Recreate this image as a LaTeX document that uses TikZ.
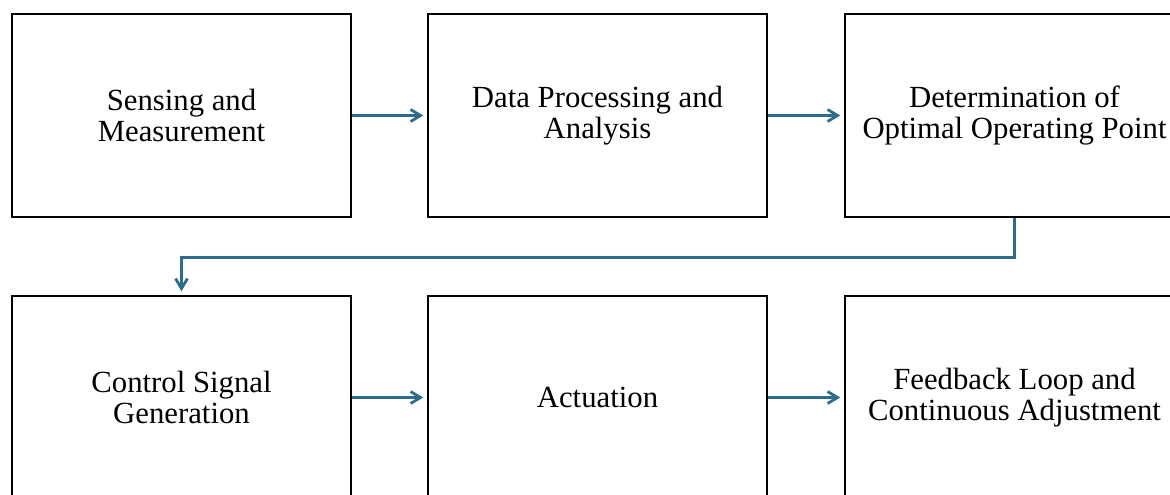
\documentclass[tikz,border=0pt]{standalone}
\usepackage{fontspec}
\setmainfont{Liberation Serif}
\usetikzlibrary{positioning,arrows.meta}
\definecolor{flowblue}{RGB}{46,108,142}

\begin{document}
\begin{tikzpicture}[
            x=0.02cm, y=-0.02cm,
            stage/.style={
                rectangle,
                draw=black,
                line width=1.4pt,
                fill=white,
                minimum width=6.78cm,
                minimum height=4.06cm,
                align=center,
                font=\fontsize{17.5}{17.8}\selectfont
            },
            link/.style={
                -{Straight Barb[length=2mm,width=2.4mm]},
                draw=flowblue,
                line width=1.6pt,
                shorten >=2pt
            }
        ]
        \useasboundingbox (0,0) rectangle (1170,494);
        \clip (0,0) rectangle (1170,494);

        % nodes
        \node[stage] (sense) at (181.5, 115.5) {Sensing and\\Measurement};
        \node[stage] (proc) at (597.5, 115.5) {Data Processing and\\Analysis};
        \node[stage] (optim) at (1014.5, 115.5) {Determination of\\Optimal Operating Point};
        \node[stage] (ctrl) at (181.5, 397.5) {Control Signal\\Generation};
        \node[stage] (act) at (597.5, 397.5) {Actuation};
        \node[stage] (fback) at (1014.5, 397.5) {Feedback Loop and\\Continuous Adjustment};

        % lines
        \draw[link] (sense.east) -- (proc.west);
        \draw[link] (proc.east) -- (optim.west);
        \draw[link] (optim.south) -- ++(0, 39) -| (ctrl.north);
        \draw[link] (ctrl.east) -- (act.west);
        \draw[link] (act.east) -- (fback.west);
    \end{tikzpicture}
\end{document}
